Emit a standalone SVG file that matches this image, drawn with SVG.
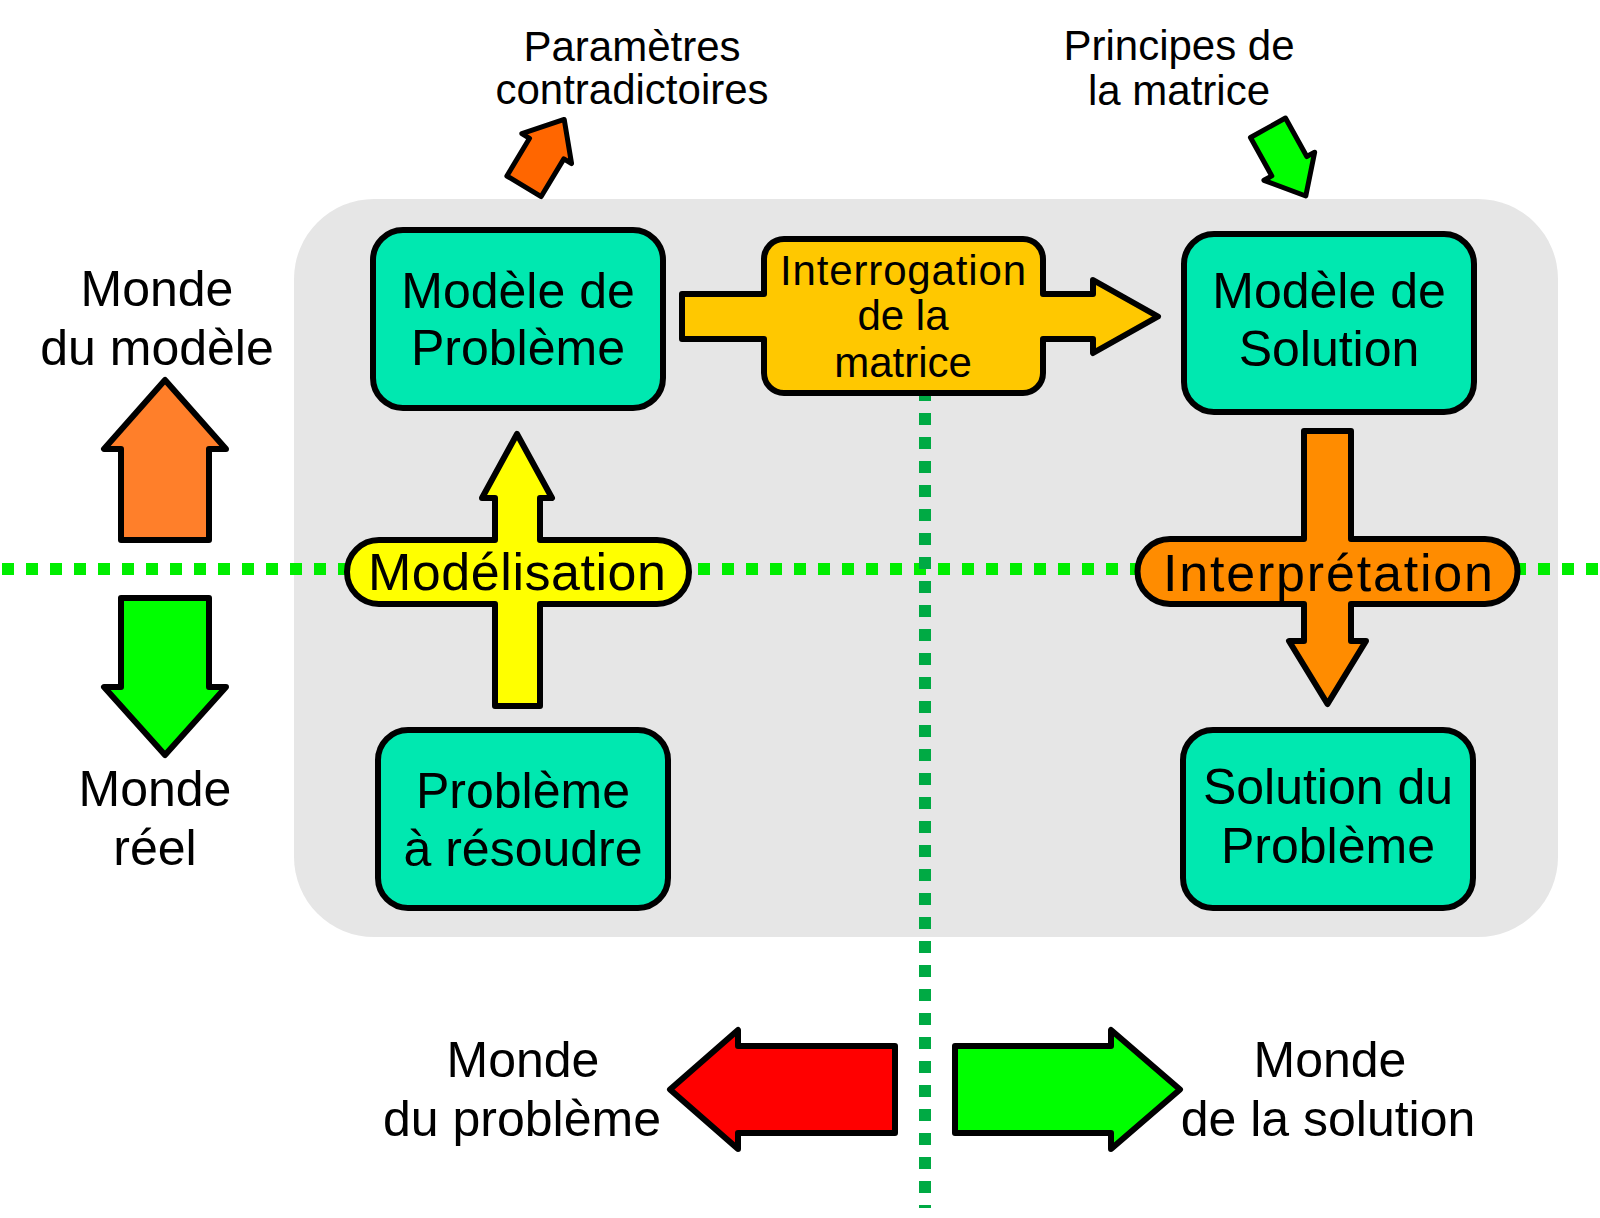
<svg xmlns="http://www.w3.org/2000/svg" width="1600" height="1218" viewBox="0 0 1600 1218">
  <defs>
    <style>
      .t { font-family: "Liberation Sans", Arial, sans-serif; fill: #000; text-anchor: middle; }
      .big { font-size: 50px; }
      .mid { font-size: 42px; }
      .box { fill: #00e8b0; stroke: #000; stroke-width: 6; }
      .arr { stroke: #000; stroke-width: 6; stroke-linejoin: round; }
      .sm { stroke: #000; stroke-width: 5; stroke-linejoin: round; }
    </style>
  </defs>
  <rect width="1600" height="1218" fill="#ffffff"/>
  <rect id="zone" x="294" y="199" width="1264" height="738" rx="80" ry="80" fill="#e6e6e6"/>

  <g id="axes">
    <line x1="2" y1="569" x2="1598" y2="569" stroke="#00ee00" stroke-width="12" stroke-dasharray="12 12"/>
    <line x1="925" y1="389" x2="925" y2="1208" stroke="#00aa44" stroke-width="12" stroke-dasharray="12 12"/>
  </g>

  <g id="legend-left">
    <polygon class="arr" fill="#ff7f2a" points="121,540 209,540 209,449 226,449 165,380 104,449 121,449"/>
    <text class="t big" x="157" y="306">Monde</text>
    <text class="t big" x="157" y="365">du modèle</text>
    <polygon class="arr" fill="#00ff00" points="121,598 209,598 209,687 226,687 165,755 104,687 121,687"/>
    <text class="t big" x="155" y="806">Monde</text>
    <text class="t big" x="155" y="865">réel</text>
  </g>

  <g id="legend-bottom">
    <polygon class="arr" stroke-width="7" fill="#ff0000" points="895,1046 895,1133 738,1133 738,1149 670,1089.5 738,1030 738,1046"/>
    <text class="t big" x="523" y="1077">Monde</text>
    <text class="t big" x="522" y="1136">du problème</text>
    <polygon class="arr" stroke-width="7" fill="#00ff00" points="955,1046 955,1133 1111,1133 1111,1149 1180,1089.5 1111,1030 1111,1046"/>
    <text class="t big" x="1330" y="1077">Monde</text>
    <text class="t big" x="1328" y="1136">de la solution</text>
  </g>

  <g id="input-parametres">
    <polygon class="sm" fill="#ff6600" points="-20,-2 20,-2 20,-46 29,-46 0,-80 -29,-46 -20,-46" transform="translate(523,188) rotate(31)"/>
    <text class="t mid" x="632" y="61">Paramètres</text>
    <text class="t mid" x="632" y="104">contradictoires</text>
  </g>

  <g id="input-principes">
    <polygon class="sm" fill="#00ff00" points="-20,-2 20,-2 20,-46 29,-46 0,-80 -29,-46 -20,-46" transform="translate(1267,126) rotate(151)"/>
    <text class="t mid" x="1179" y="60">Principes de</text>
    <text class="t mid" x="1179" y="105">la matrice</text>
  </g>

  <g id="modele-probleme">
    <rect class="box" x="373" y="230" width="290" height="178" rx="30"/>
    <text class="t big" x="518" y="308">Modèle de</text>
    <text class="t big" x="518" y="365">Problème</text>
  </g>

  <g id="modele-solution">
    <rect class="box" x="1184" y="234" width="290" height="178" rx="30"/>
    <text class="t big" x="1329" y="308">Modèle de</text>
    <text class="t big" x="1329" y="366">Solution</text>
  </g>

  <g id="probleme-a-resoudre">
    <rect class="box" x="378" y="730" width="290" height="178" rx="30"/>
    <text class="t big" x="523" y="808">Problème</text>
    <text class="t big" x="523" y="866">à résoudre</text>
  </g>

  <g id="solution-probleme">
    <rect class="box" x="1183" y="730" width="290" height="178" rx="30"/>
    <text class="t big" x="1328" y="804">Solution du</text>
    <text class="t big" x="1328" y="863">Problème</text>
  </g>

  <g id="connectors">
    <g id="modelisation">
      <path class="arr" fill="#ffff00" d="M 495 706 L 495 604 L 379 604 A 32 32 0 0 1 379 540 L 495 540 L 495 498 L 482 498 L 517 434 L 552 498 L 540 498 L 540 540 L 657 540 A 32 32 0 0 1 657 604 L 540 604 L 540 706 Z"/>
      <text class="t" font-size="52" x="517" y="590" textLength="298" lengthAdjust="spacing">Modélisation</text>
    </g>
    <g id="interrogation">
      <path class="arr" fill="#ffc800" d="M 682 294 L 764 294 L 764 259 A 20 20 0 0 1 784 239 L 1023 239 A 20 20 0 0 1 1043 259 L 1043 294 L 1093 294 L 1093 280 L 1158 316.5 L 1093 353 L 1093 339 L 1043 339 L 1043 373 A 20 20 0 0 1 1023 393 L 784 393 A 20 20 0 0 1 764 373 L 764 339 L 682 339 Z"/>
      <text class="t mid" x="903" y="285" textLength="246" lengthAdjust="spacing">Interrogation</text>
      <text class="t mid" x="903" y="330">de la</text>
      <text class="t mid" x="903" y="377">matrice</text>
    </g>
    <g id="interpretation">
      <path class="arr" fill="#ff8c00" d="M 1304 431 L 1351 431 L 1351 539 L 1485 539 A 32.5 32.5 0 0 1 1485 604 L 1351 604 L 1351 641 L 1366 641 L 1327.5 704 L 1289 641 L 1304 641 L 1304 604 L 1170 604 A 32.5 32.5 0 0 1 1170 539 L 1304 539 Z"/>
      <text class="t" font-size="52" x="1328" y="591" textLength="330" lengthAdjust="spacing">Interprétation</text>
    </g>
  </g>
</svg>
